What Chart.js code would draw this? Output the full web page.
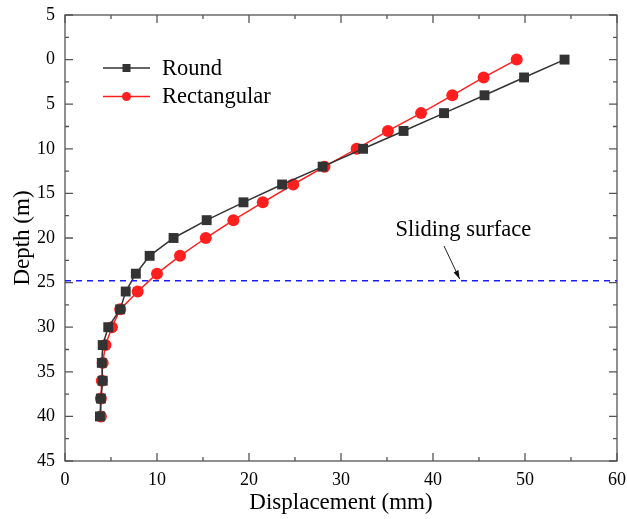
<!DOCTYPE html>
<html>
<head>
<meta charset="utf-8">
<script src="https://cdn.jsdelivr.net/npm/chart.js@4"></script>
<style>
  html, body { margin: 0; padding: 0; background: #fff; }
  #wrap { width: 627px; height: 519px; }
</style>
</head>
<body>
<div id="wrap"><canvas id="myChart" width="627" height="519"></canvas></div>
<script>
// depth of each measuring point (m)
var depths = [0, 2, 4, 6, 8, 10, 12, 14, 16, 18, 20, 22, 24, 26, 28, 30, 32, 34, 36, 38, 40];
// displacement (mm)
var roundDisp = [54.3, 49.9, 45.6, 41.2, 36.8, 32.4, 28.0, 23.6, 19.4, 15.4, 11.8, 9.2, 7.7, 6.6, 6.0, 4.7, 4.1, 4.0, 4.1, 3.9, 3.8];
var rectDisp = [49.1, 45.5, 42.1, 38.7, 35.1, 31.7, 28.2, 24.8, 21.5, 18.3, 15.3, 12.5, 10.0, 7.9, 6.0, 5.1, 4.4, 4.1, 4.0, 3.9, 3.9];
var slidingDepth = 24.8;
var xTicks = [0, 10, 20, 30, 40, 50, 60];
var yTicks = [-5, 0, 5, 10, 15, 20, 25, 30, 35, 40, 45];
var yTickLabels = ["5", "0", "5", "10", "15", "20", "25", "30", "35", "40", "45"];

var FONT = "'Liberation Serif', 'Times New Roman', serif";
var BLACK = "#333333";
var RED = "#ff1f1f";

function pts(xs) {
  return xs.map(function (v, i) { return { x: v, y: depths[i] }; });
}

// box with inward ticks on all four sides, legend and the annotation
var framePlugin = {
  id: "frame",
  beforeDatasetsDraw: function (chart) {
    var ctx = chart.ctx, a = chart.chartArea;
    var xs = chart.scales.x, ys = chart.scales.y;
    ctx.save();
    ctx.strokeStyle = "#555";
    ctx.lineWidth = 1.3;
    ctx.strokeRect(a.left, a.top, a.right - a.left, a.bottom - a.top);
    ctx.beginPath();
    xTicks.forEach(function (v, i) {
      var px = xs.getPixelForValue(v);
      ctx.moveTo(px, a.bottom); ctx.lineTo(px, a.bottom - 8);
      ctx.moveTo(px, a.top); ctx.lineTo(px, a.top + 8);
      if (i < xTicks.length - 1) {
        var mx = xs.getPixelForValue((v + xTicks[i + 1]) / 2);
        ctx.moveTo(mx, a.bottom); ctx.lineTo(mx, a.bottom - 4);
        ctx.moveTo(mx, a.top); ctx.lineTo(mx, a.top + 4);
      }
    });
    yTicks.forEach(function (v, i) {
      var py = ys.getPixelForValue(v);
      ctx.moveTo(a.left, py); ctx.lineTo(a.left + 8, py);
      ctx.moveTo(a.right, py); ctx.lineTo(a.right - 8, py);
      if (i < yTicks.length - 1) {
        var my = ys.getPixelForValue((v + yTicks[i + 1]) / 2);
        ctx.moveTo(a.left, my); ctx.lineTo(a.left + 4, my);
        ctx.moveTo(a.right, my); ctx.lineTo(a.right - 4, my);
      }
    });
    ctx.stroke();
    ctx.restore();
  },
  afterDraw: function (chart) {
    var ctx = chart.ctx, a = chart.chartArea;
    var xs = chart.scales.x, ys = chart.scales.y;
    ctx.save();
    // legend
    var items = [
      { label: "Round", color: BLACK, shape: "rect" },
      { label: "Rectangular", color: RED, shape: "circle" }
    ];
    items.forEach(function (it, i) {
      var y = a.top + 53 + i * 28.5;
      var x0 = a.left + 38, x1 = a.left + 85;
      ctx.strokeStyle = it.color;
      ctx.lineWidth = 1.5;
      ctx.beginPath(); ctx.moveTo(x0, y); ctx.lineTo(x1, y); ctx.stroke();
      ctx.fillStyle = it.color;
      var cx = (x0 + x1) / 2;
      if (it.shape === "rect") {
        ctx.fillRect(cx - 4, y - 4, 8, 8);
      } else {
        ctx.beginPath(); ctx.arc(cx, y, 4.5, 0, Math.PI * 2); ctx.fill();
      }
      ctx.fillStyle = "#000";
      ctx.font = "22.5px " + FONT;
      ctx.textAlign = "left";
      ctx.textBaseline = "middle";
      ctx.fillText(it.label, a.left + 97, y + 1);
    });
    // sliding surface note and arrow
    ctx.fillStyle = "#000";
    ctx.font = "22.5px " + FONT;
    ctx.textAlign = "center";
    ctx.textBaseline = "middle";
    ctx.fillText("Sliding surface", xs.getPixelForValue(43.3), ys.getPixelForValue(19.1));
    var sx = xs.getPixelForValue(41.2), sy = ys.getPixelForValue(20.9);
    var ex = xs.getPixelForValue(42.9), ey = ys.getPixelForValue(24.6);
    ctx.strokeStyle = "#222";
    ctx.lineWidth = 1;
    ctx.beginPath(); ctx.moveTo(sx, sy); ctx.lineTo(ex, ey); ctx.stroke();
    var ang = Math.atan2(ey - sy, ex - sx);
    ctx.beginPath();
    ctx.moveTo(ex, ey);
    ctx.lineTo(ex - 9 * Math.cos(ang - 0.3), ey - 9 * Math.sin(ang - 0.3));
    ctx.lineTo(ex - 9 * Math.cos(ang + 0.3), ey - 9 * Math.sin(ang + 0.3));
    ctx.closePath();
    ctx.fillStyle = "#111";
    ctx.fill();
    ctx.restore();
  }
};

var ctx = document.getElementById("myChart").getContext("2d");
var chart = new Chart(ctx, {
  type: "scatter",
  data: {
    datasets: [
      {
        label: "Sliding surface",
        data: [{ x: xTicks[0], y: slidingDepth }, { x: xTicks[xTicks.length - 1], y: slidingDepth }],
        showLine: true,
        borderColor: "#1a1aff",
        borderWidth: 1.5,
        borderDash: [6, 5],
        pointRadius: 0
      },
      {
        label: "Round",
        data: pts(roundDisp),
        showLine: true,
        borderColor: BLACK,
        backgroundColor: BLACK,
        borderWidth: 1.5,
        pointStyle: "rect",
        pointRadius: 7,
        pointBorderWidth: 0
      },
      {
        label: "Rectangular",
        data: pts(rectDisp),
        showLine: true,
        borderColor: RED,
        backgroundColor: RED,
        borderWidth: 1.5,
        pointStyle: "circle",
        pointRadius: 6,
        pointBorderWidth: 0
      }
    ]
  },
  options: {
    responsive: false,
    animation: false,
    layout: { padding: { top: 15, right: 10, left: 0, bottom: 0 } },
    plugins: {
      legend: { display: false },
      tooltip: { enabled: false }
    },
    scales: {
      x: {
        type: "linear",
        min: 0,
        max: 60,
        afterFit: function (s) { s.height = 58; s.paddingLeft = 0; s.paddingRight = 0; },
        afterBuildTicks: function (s) { s.ticks = xTicks.map(function (v) { return { value: v }; }); },
        grid: { display: false, drawTicks: false },
        border: { display: false },
        ticks: { color: "#000", padding: 8, font: { family: FONT, size: 18 } },
        title: {
          display: true,
          text: "Displacement (mm)",
          color: "#000",
          padding: { top: 0, bottom: 2 },
          font: { family: FONT, size: 23 }
        }
      },
      y: {
        type: "linear",
        reverse: true,
        min: -5,
        max: 45,
        afterFit: function (s) { s.width = 65; s.paddingTop = 0; s.paddingBottom = 0; },
        afterBuildTicks: function (s) { s.ticks = yTicks.map(function (v) { return { value: v }; }); },
        grid: { display: false, drawTicks: false },
        border: { display: false },
        ticks: {
          color: "#000",
          padding: 10,
          font: { family: FONT, size: 18 },
          callback: function (v) { return yTickLabels[yTicks.indexOf(v)]; }
        },
        title: {
          display: true,
          text: "Depth (m)",
          color: "#000",
          padding: { top: 9, bottom: 0 },
          font: { family: FONT, size: 23 }
        }
      }
    }
  },
  plugins: [framePlugin]
});
</script>
</body>
</html>
